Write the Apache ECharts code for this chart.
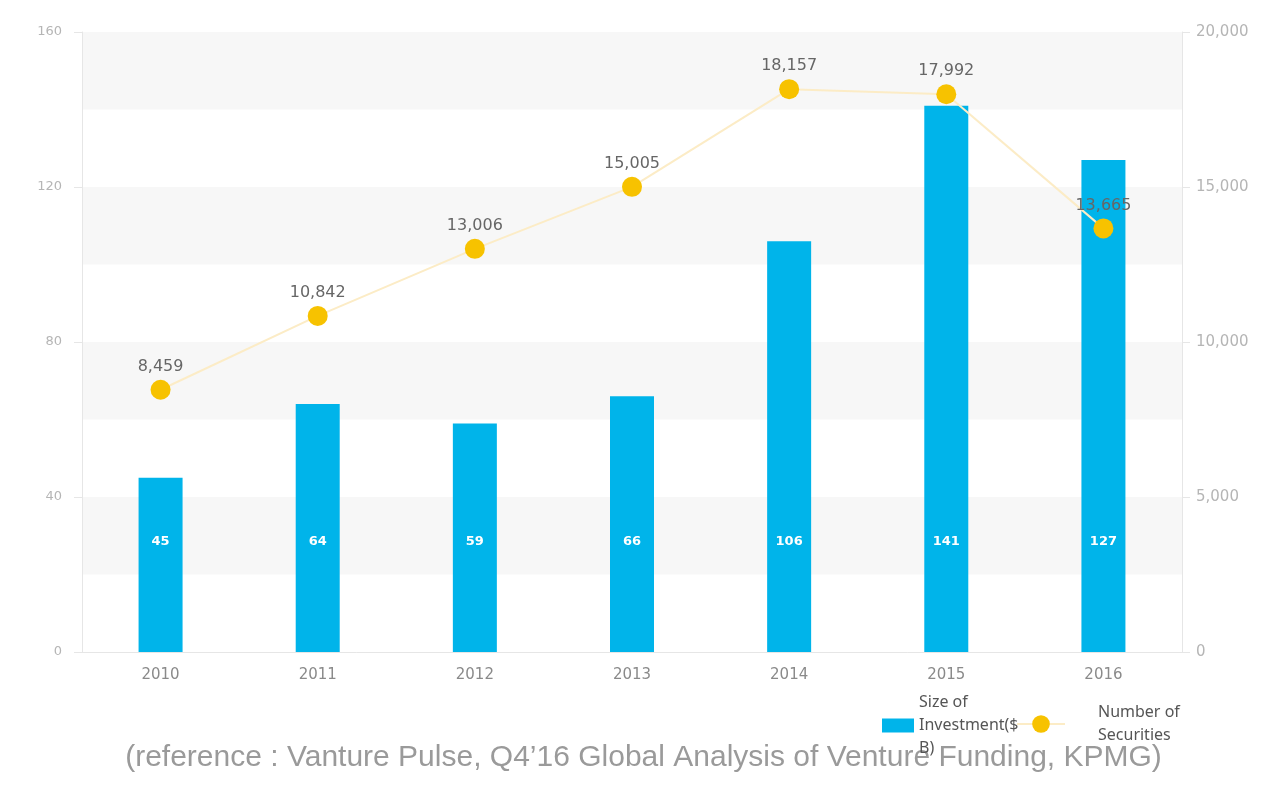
<!DOCTYPE html>
<html>
<head>
<meta charset="utf-8">
<script src="https://cdn.jsdelivr.net/npm/echarts@6/dist/echarts.min.js"></script>
<style>
  html, body { margin: 0; padding: 0; background: #fff; }
  #chart { width: 1287px; height: 786px; }
</style>
</head>
<body>
<div id="chart"></div>
<script>
let years = ["2010", "2011", "2012", "2013", "2014", "2015", "2016"]
let investment = [45, 64, 59, 66, 106, 141, 127]
let securities = [8459, 10842, 13006, 15005, 18157, 17992, 13665]
let sourceText = "(reference : Vanture Pulse, Q4\u201916 Global Analysis of Venture Funding, KPMG)"

let axisGray = "#e6e6e6"
let labelGray = "#b5b5b5"
let legendText = { fontFamily: "Noto Sans", fontSize: 16, color: "#555", lineHeight: 23 }

let chart = echarts.init(document.getElementById("chart"))
chart.setOption({
  animation: false,
  grid: { left: 82, right: 105, top: 32, bottom: 134 },
  legend: [
    {
      left: 877, top: 686,
      itemWidth: 32, itemHeight: 14,
      textStyle: legendText,
      formatter: function () { return "Size of\nInvestment($\nB)" },
      data: [{ name: "Size of Investment($B)", icon: "rect" }]
    },
    {
      left: 1011, top: 696,
      itemWidth: 48, itemHeight: 22,
      textStyle: Object.assign({ padding: [0, 0, 0, 28] }, legendText),
      formatter: function () { return "Number of\nSecurities" },
      data: [{ name: "Number of Securities" }]
    }
  ],
  graphic: [{
    type: "text", left: "center", top: 743,
    style: { text: sourceText, font: "30px 'Liberation Sans'", fill: "#9a9a9a" }
  }],
  xAxis: {
    type: "category",
    data: years,
    axisLine: { lineStyle: { color: axisGray } },
    axisTick: { show: false },
    axisLabel: { color: "#8a8a8a", fontFamily: "DejaVu Sans", fontSize: 15, margin: 16 }
  },
  yAxis: [
    {
      type: "value", min: 0, max: 160, interval: 40,
      axisLine: { show: true, lineStyle: { color: axisGray } },
      axisTick: { show: true, length: 8, lineStyle: { color: axisGray } },
      axisLabel: { color: labelGray, fontFamily: "DejaVu Sans", fontSize: 13, margin: 20 },
      splitLine: { show: false }
    },
    {
      type: "value", min: 0, max: 20000, interval: 5000,
      axisLine: { show: true, lineStyle: { color: axisGray } },
      axisTick: { show: true, length: 8, lineStyle: { color: axisGray } },
      axisLabel: {
        color: labelGray, fontFamily: "DejaVu Sans", fontSize: 15, margin: 14,
        formatter: function (v) { return v.toLocaleString("en-US") }
      },
      splitLine: { show: false }
    },
    {
      // only used for the striped background
      type: "value", min: 0, max: 160, interval: 20,
      axisLine: { show: false }, axisTick: { show: false }, axisLabel: { show: false },
      splitLine: { show: false },
      splitArea: { show: true, areaStyle: { color: ["#ffffff", "#f7f7f7"] } }
    }
  ],
  series: [
    {
      name: "Size of Investment($B)",
      type: "bar",
      data: investment,
      barWidth: 44,
      itemStyle: { color: "#00b4ea" },
      label: {
        show: true, position: "insideBottom", distance: 104,
        color: "#fff", fontWeight: "bold", fontSize: 13, fontFamily: "DejaVu Sans"
      }
    },
    {
      name: "Number of Securities",
      type: "line",
      yAxisIndex: 1,
      data: securities,
      symbol: "circle",
      symbolSize: 20,
      itemStyle: { color: "#f7c200" },
      lineStyle: { color: "#fcecc6", width: 2 },
      label: {
        show: true, position: "top", distance: 5,
        color: "#666", fontSize: 16, fontFamily: "DejaVu Sans",
        formatter: function (p) { return p.value.toLocaleString("en-US") }
      }
    }
  ]
})
</script>
</body>
</html>
